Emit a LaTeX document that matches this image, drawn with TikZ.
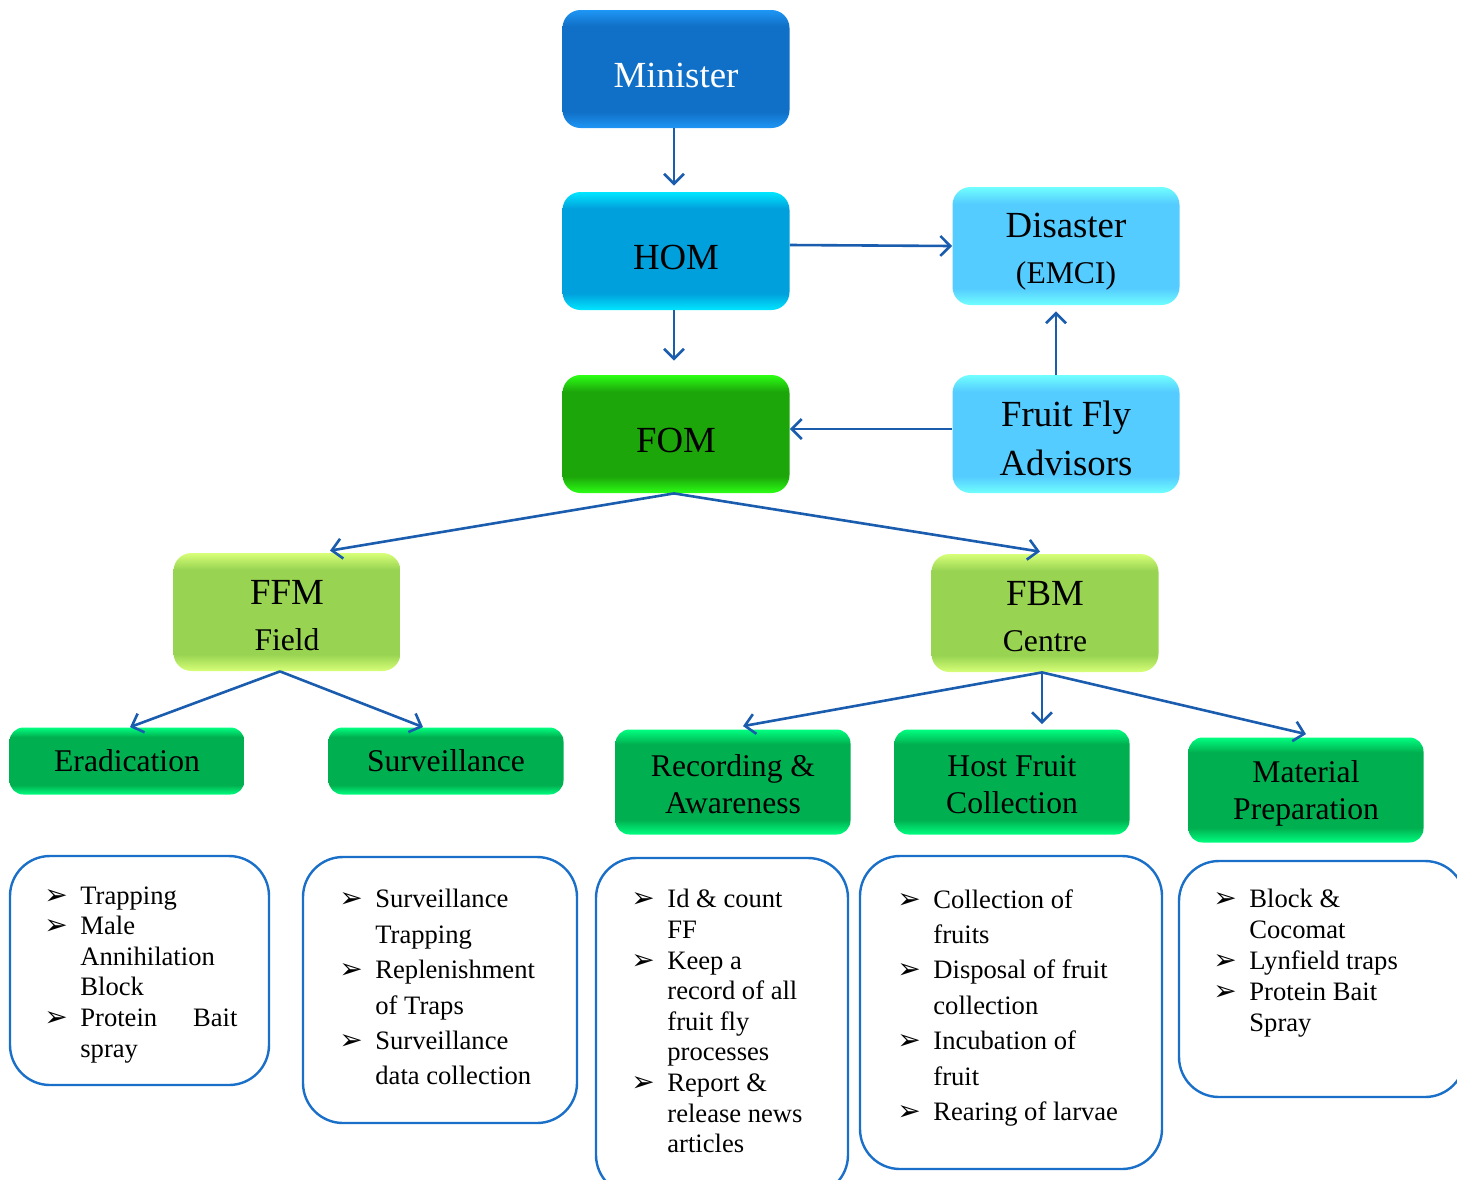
\documentclass[tikz,border=0pt]{standalone}
\usepackage{fontspec}
\setmainfont{Liberation Serif}
\newfontfamily\dingfont{DejaVu Sans}
\usetikzlibrary{arrows.meta}

\definecolor{minEdge}{HTML}{1E96F5}
\definecolor{minMid}{HTML}{106FC6}
\definecolor{homEdge}{HTML}{00E6FF}
\definecolor{homMid}{HTML}{00A0DC}
\definecolor{disEdge}{HTML}{70FFFF}
\definecolor{disMid}{HTML}{55CCFF}
\definecolor{fomEdge}{HTML}{2CFF14}
\definecolor{fomMid}{HTML}{1CA60A}
\definecolor{mgrEdge}{HTML}{D8FF78}
\definecolor{mgrMid}{HTML}{98D452}
\definecolor{actEdge}{HTML}{00FF80}
\definecolor{actMid}{HTML}{00B050}
\definecolor{arrowblue}{HTML}{1A5CAD}
\definecolor{listblue}{HTML}{1A6FC8}

\colorlet{boxedge}{white}
\colorlet{boxmid}{gray}
\pgfdeclareverticalshading[boxedge,boxmid]{bevel}{100bp}{color(0bp)=(boxedge); color(25bp)=(boxedge); color(32bp)=(boxmid); color(68bp)=(boxmid); color(75bp)=(boxedge); color(100bp)=(boxedge)}

\newcommand{\blt}{\makebox[18pt][l]{\dingfont\fontsize{14}{14}\selectfont ➢}}
\newcommand{\ind}{\hspace*{18pt}}
\newcommand{\lift}[1][18pt]{\rule{0pt}{#1}}

\tikzset{
  box/.style 2 args={/utils/exec={\colorlet{boxedge}{#1}\colorlet{boxmid}{#2}},
    shading=bevel, rounded corners=9pt, align=center, inner sep=0pt,
    minimum width=113.5pt, minimum height=59pt,
    font=\fontsize{18.4}{23}\selectfont},
  actbox/.style={box={actEdge}{actMid}, rounded corners=7pt,
    minimum width=117.5pt, minimum height=52.5pt,
    font=\fontsize{15.8}{18.5}\selectfont},
  listframe/.style={draw=listblue, line width=1.2pt, rounded corners=20pt,
    inner sep=0pt},
  listtext/.style={anchor=north west, align=left, inner sep=0pt,
    font=\fontsize{13.3}{15.3}\selectfont},
  arr/.style={draw=arrowblue, line width=1.3pt,
    -{Straight Barb[length=5pt,width=10pt]}}
}

\begin{document}
\begin{tikzpicture}[x=0.5pt,y=-0.5pt]
\useasboundingbox (0,0) rectangle (1457,1179);

\node[box={minEdge}{minMid}, text=white] (minister) at (676,69) {\lift[19pt]Minister};
\node[box={homEdge}{homMid}] (hom) at (676,251) {\lift[19pt]HOM};
\node[box={fomEdge}{fomMid}] (fom) at (676,434) {\lift[19pt]FOM};
\node[box={disEdge}{disMid}] (disaster) at (1066,246)
  {\lift[17.5pt]Disaster\\{\fontsize{15.8}{18}\selectfont (EMCI)}};
\node[box={disEdge}{disMid}, font=\fontsize{18.4}{24.5}\selectfont] (advisors) at (1066,434)
  {\lift[17.5pt]Fruit Fly\\Advisors};
\node[box={mgrEdge}{mgrMid}] (ffm) at (287,612)
  {\lift[15.5pt]FFM\\{\fontsize{15.8}{18}\selectfont Field}};
\node[box={mgrEdge}{mgrMid}] (fbm) at (1045,613)
  {\lift[15.5pt]FBM\\{\fontsize{15.8}{18}\selectfont Centre}};

\node[actbox, minimum height=33.5pt] (eradication) at (127,761) {Eradication};
\node[actbox, minimum height=33.5pt] (surveillance) at (446,761) {Surveillance};
\node[actbox] (recording) at (733,782) {\lift[13pt]Recording \&\\Awareness};
\node[actbox] (hostfruit) at (1012,782) {\lift[13pt]Host Fruit\\Collection};
\node[actbox] (material) at (1306,790) {\lift[14pt]Material\\Preparation};

\draw[arr] ([xshift=-1pt]minister.south) -- ([xshift=-1pt,yshift=3pt]hom.north);
\draw[arr] ([xshift=-1pt]hom.south) -- ([xshift=-1pt,yshift=7pt]fom.north);
\draw[arr] ([yshift=3pt]hom.east) -- (disaster.west);
\draw[arr] ([xshift=-5pt]advisors.north) -- ([xshift=-5pt,yshift=-3pt]disaster.south);
\draw[arr] ([yshift=2.5pt]advisors.west) -- ([yshift=2.5pt]fom.east);
\draw[arr] ([xshift=-1pt]fom.south) -- ([xshift=21.5pt,yshift=1pt]ffm.north);
\draw[arr] ([xshift=-1pt]fom.south) -- ([xshift=-2.5pt,yshift=1pt]fbm.north);
\draw[arr] ([xshift=-3.5pt]ffm.south) -- ([xshift=1.5pt]eradication.north);
\draw[arr] ([xshift=-3.5pt]ffm.south) -- ([xshift=-11.5pt]surveillance.north);
\draw[arr] ([xshift=-1.5pt]fbm.south) -- ([xshift=5pt,yshift=1.5pt]recording.north);
\draw[arr] ([xshift=-1.5pt]fbm.south) -- ([xshift=15pt,yshift=2.5pt]hostfruit.north);
\draw[arr] ([xshift=-1.5pt]fbm.south) -- ([yshift=1.5pt]material.north);

\node[listframe, minimum width=129.5pt, minimum height=114.5pt] (eradlist) at (139.5,970.5) {};
\node[listframe, minimum width=137pt, minimum height=133pt] (survlist) at (440,990) {};
\node[listframe, minimum width=126pt, minimum height=168.5pt] (reclist) at (722,1026.5) {};
\node[listframe, minimum width=151pt, minimum height=156.5pt] (hostlist) at (1011,1012.5) {};
\node[listframe, minimum width=143pt, minimum height=118pt] (matlist) at (1322,979) {};

\node[listtext] (eradtext) at (44,886) {\blt Trapping\\
\blt Male\\
\ind Annihilation\\
\ind Block\\
\blt \makebox[78.5pt][s]{Protein\hfill Bait}\\
\ind spray};
\node[listtext, font=\fontsize{13.3}{17.7}\selectfont] (survtext) at (339,889) {\blt Surveillance\\
\ind Trapping\\
\blt Replenishment\\
\ind of Traps\\
\blt Surveillance\\
\ind data collection};
\node[listtext] (rectext) at (631,889) {\blt Id \& count\\
\ind FF\\
\blt Keep a\\
\ind record of all\\
\ind fruit fly\\
\ind processes\\
\blt Report \&\\
\ind release news\\
\ind articles};
\node[listtext, font=\fontsize{13.3}{17.7}\selectfont] (hosttext) at (897,889) {\blt Collection of\\
\ind fruits\\
\blt Disposal of fruit\\
\ind collection\\
\blt Incubation of\\
\ind fruit\\
\blt Rearing of larvae};
\node[listtext, font=\fontsize{13.3}{15.5}\selectfont] (mattext) at (1213,889) {\blt Block \&\\
\ind Cocomat\\
\blt Lynfield traps\\
\blt Protein Bait\\
\ind Spray};
\end{tikzpicture}
\end{document}
